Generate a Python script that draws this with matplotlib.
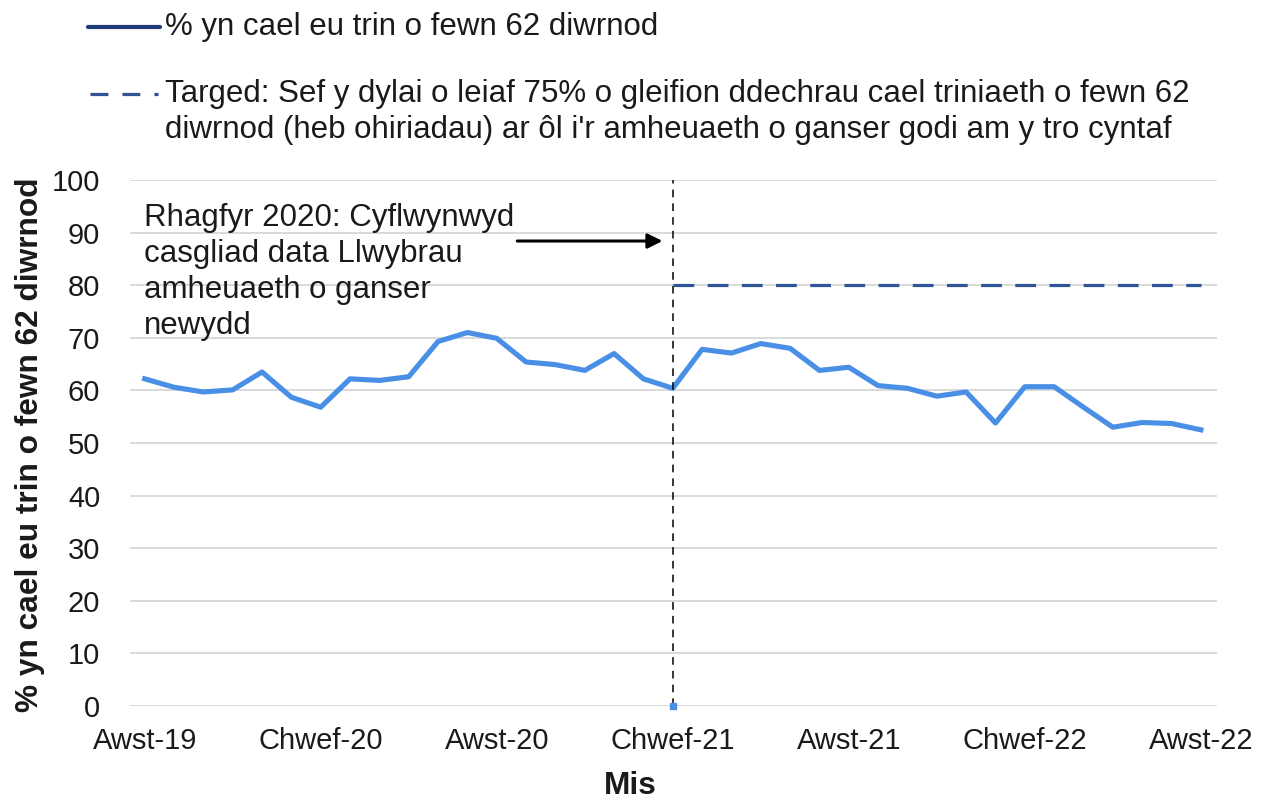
import matplotlib
matplotlib.use("Agg")
import matplotlib.pyplot as plt
from matplotlib.lines import Line2D

plt.rcParams['font.family'] = ['Liberation Sans', 'DejaVu Sans']

# ---- data ----
months = ["Awst-19", "Medi-19", "Hyd-19", "Tach-19", "Rhag-19",
          "Ion-20", "Chwef-20", "Maw-20", "Ebr-20", "Mai-20", "Meh-20", "Gorff-20",
          "Awst-20", "Medi-20", "Hyd-20", "Tach-20", "Rhag-20",
          "Ion-21", "Chwef-21", "Maw-21", "Ebr-21", "Mai-21", "Meh-21", "Gorff-21",
          "Awst-21", "Medi-21", "Hyd-21", "Tach-21", "Rhag-21",
          "Ion-22", "Chwef-22", "Maw-22", "Ebr-22", "Mai-22", "Meh-22", "Gorff-22",
          "Awst-22"]
pct_62_days = [62.2, 60.6, 59.7, 60.1, 63.5,
               58.7, 56.8, 62.2, 61.9, 62.6, 69.3, 71.0,
               69.9, 65.4, 64.9, 63.8, 67.0,
               62.2, 60.4, 67.8, 67.1, 68.9, 68.0, 63.8,
               64.4, 60.9, 60.4, 58.9, 59.7,
               53.8, 60.7, 60.7, 56.8, 53.0, 53.9, 53.7,
               52.5]
target_value = 80
target_start = "Chwef-21"
target_end = "Awst-22"
event_month = "Chwef-21"
yticks = list(range(0, 101, 10))
xtick_labels = ["Awst-19", "Chwef-20", "Awst-20", "Chwef-21", "Awst-21", "Chwef-22", "Awst-22"]

legend1 = "% yn cael eu trin o fewn 62 diwrnod"
legend2_lines = ["Targed: Sef y dylai o leiaf 75% o gleifion ddechrau cael triniaeth o fewn 62",
                 "diwrnod (heb ohiriadau) ar ôl i'r amheuaeth o ganser godi am y tro cyntaf"]
annotation_lines = ["Rhagfyr 2020: Cyflwynwyd", "casgliad data Llwybrau",
                    "amheuaeth o ganser", "newydd"]
ylabel = "% yn cael eu trin o fewn 62 diwrnod"
xlabel = "Mis"

# ---- style ----
FS_TICK = 21
FS_TXT = 22.5
FS_LAB = 22.8
TXT = '#1a1a1a'
LINE_C = '#4A8FE6'
TARGET_C = '#2F5597'
LEG_NAVY = '#1F3C78'
W, H = 1266, 801


def fy(py):
    return 1 - py / H


fig = plt.figure(figsize=(W / 100, H / 100), dpi=100)
ax = fig.add_axes([130 / W, fy(706), (1217 - 130) / W, (706 - 180) / H])

x = list(range(len(months)))
ax.plot(x, pct_62_days, color=LINE_C, lw=3.7, solid_joinstyle='round', zorder=3)

i0 = months.index(target_start)
i1 = months.index(target_end)
ax.plot([i0, i1], [target_value, target_value], color=TARGET_C, lw=2.3,
        dashes=(6.5, 4.2), zorder=3)

ie = months.index(event_month)
ax.plot([ie, ie], [0, 100], color='black', lw=1.1, dashes=(5, 4), zorder=4)
ax.plot([ie], [0], marker='s', ms=4, color=LINE_C, zorder=5, clip_on=False)

ax.annotate('', xy=(ie - 0.35, 88.4), xytext=(ie - 5.3, 88.4),
            arrowprops=dict(arrowstyle='-|>', color='black', lw=2.2,
                            mutation_scale=22, shrinkA=0, shrinkB=0))
for k, line in enumerate(annotation_lines):
    fig.text(144 / W, fy(226 + 36 * k), line, fontsize=FS_TXT, color=TXT,
             va='baseline', ha='left')

ax.set_xlim(-0.5, len(months) - 0.45)
ax.set_ylim(0, 100)
ax.set_yticks(yticks)
ax.set_yticklabels([str(v) for v in yticks])
ax.set_xticks([months.index(m) for m in xtick_labels])
ax.set_xticklabels(xtick_labels)
ax.tick_params(axis='y', length=0, pad=21.5, labelsize=FS_TICK, labelcolor=TXT)
ax.tick_params(axis='x', length=0, pad=15, labelsize=FS_TICK, labelcolor=TXT)
ax.grid(axis='y', color='#d9d9d9', lw=1.4)
ax.set_axisbelow(True)
for s in ax.spines.values():
    s.set_visible(False)

fig.text(30 / W, fy(445), ylabel, rotation=90, fontsize=FS_LAB, fontweight='bold',
         color=TXT, ha='center', va='center')
fig.text(630 / W, fy(786), xlabel, fontsize=FS_LAB, fontweight='bold',
         color=TXT, ha='center', va='center')

# legend (manual)
fig.add_artist(Line2D([88 / W, 160 / W], [fy(27), fy(27)], color=LEG_NAVY, lw=3.0,
                      solid_capstyle='round', transform=fig.transFigure))
fig.text(165 / W, fy(35), legend1, fontsize=FS_TXT, color=TXT, va='baseline', ha='left')
fig.add_artist(Line2D([90 / W, 158 / W], [fy(94), fy(94)], color=TARGET_C, lw=2.3,
                      dashes=(5.6, 4.4), transform=fig.transFigure))
for k, line in enumerate(legend2_lines):
    fig.text(165 / W, fy(102 + 36 * k), line, fontsize=FS_TXT, color=TXT,
             va='baseline', ha='left')

fig.savefig('out.png', dpi=100)
